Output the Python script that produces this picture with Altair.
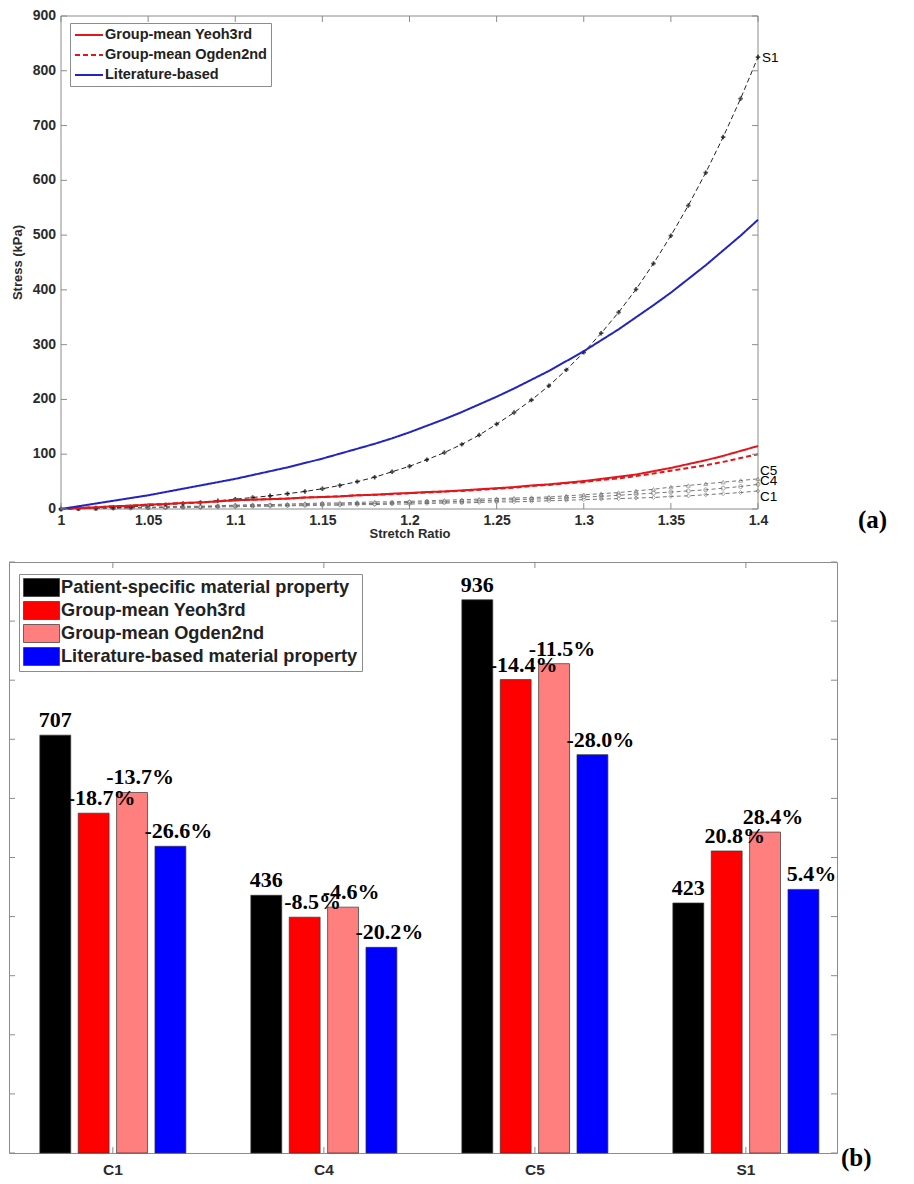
import altair as alt
import pandas as pd

# ---------------- (a) stress-stretch curves ----------------
stretch = [1.00, 1.01, 1.02, 1.03, 1.04, 1.05, 1.06, 1.07, 1.08, 1.09,
           1.10, 1.11, 1.12, 1.13, 1.14, 1.15, 1.16, 1.17, 1.18, 1.19,
           1.20, 1.21, 1.22, 1.23, 1.24, 1.25, 1.26, 1.27, 1.28, 1.29,
           1.30, 1.31, 1.32, 1.33, 1.34, 1.35, 1.36, 1.37, 1.38, 1.39, 1.40]
s1 = [0, 1, 2, 3, 4, 6, 8, 10, 12, 15, 18, 21, 24, 28, 32, 37, 43, 50, 58, 68,
      78, 90, 103, 118, 135, 155, 176, 199, 225, 254, 286, 321, 359, 401, 448,
      499, 554, 614, 679, 749, 825]
c5 = [0, 1, 1, 2, 3, 3, 4, 5, 5, 6, 7, 8, 8, 9, 10, 11, 11, 12, 13, 13,
      14, 15, 16, 17, 18, 19, 20, 21, 22, 24, 26, 28, 30, 33, 36, 40, 43, 46, 49, 52, 55]
c4 = [0, 1, 1, 2, 2, 3, 3, 4, 4, 5, 6, 6, 7, 7, 8, 9, 9, 10, 10, 11,
      12, 13, 13, 14, 15, 16, 17, 18, 19, 20, 22, 23, 25, 27, 29, 31, 33, 35, 38, 41, 45]
c1 = [0, 0, 1, 1, 2, 2, 3, 3, 3, 4, 4, 5, 5, 6, 6, 7, 7, 8, 8, 9,
      9, 10, 11, 11, 12, 13, 13, 14, 15, 16, 17, 18, 19, 20, 21, 23, 24, 26, 28, 30, 33]
yeoh = [0, 2, 3, 5, 6, 8, 9, 11, 12, 14, 16, 17, 18, 19, 21, 22, 23, 25, 26, 28,
        29, 31, 32, 34, 36, 38, 40, 43, 45, 48, 51, 55, 59, 63, 69, 75, 82, 89, 97, 106, 115]
ogden = [0, 2, 3, 5, 6, 8, 9, 11, 12, 14, 16, 17, 18, 19, 21, 22, 23, 25, 26, 27,
         29, 30, 32, 33, 35, 37, 39, 42, 44, 47, 49, 53, 56, 60, 65, 70, 75, 80, 86, 93, 100]
lit = [0, 5, 10, 15, 20, 25, 31, 37, 43, 49, 55, 62, 69, 76, 84, 92, 101, 110, 119, 129,
       140, 152, 164, 177, 191, 205, 220, 236, 252, 270, 288, 308, 328, 350, 372, 395,
       420, 445, 472, 499, 528]
model_names = ["Group-mean Yeoh3rd", "Group-mean Ogden2nd", "Literature-based"]
x_ticks = [1.0, 1.05, 1.1, 1.15, 1.2, 1.25, 1.3, 1.35, 1.4]
y_ticks_a = [0, 100, 200, 300, 400, 500, 600, 700, 800, 900]

# ---------------- (b) bar chart ----------------
cases = ["C1", "C4", "C5", "S1"]
groups = ["Patient-specific material property", "Group-mean Yeoh3rd",
          "Group-mean Ogden2nd", "Literature-based material property"]
patient_b = [707, 436, 936, 423]
yeoh_b = [575, 399, 801, 511]
ogden_b = [610, 416, 828, 543]
lit_b = [519, 348, 674, 446]
yeoh_pct = ["-18.7%", "-8.5%", "-14.4%", "20.8%"]
ogden_pct = ["-13.7%", "-4.6%", "-11.5%", "28.4%"]
lit_pct = ["-26.6%", "-20.2%", "-28.0%", "5.4%"]
y_ticks_b = [0, 100, 200, 300, 400, 500, 600, 700, 800, 900, 1000]

SANS = "Liberation Sans"
SERIF = "Liberation Serif"
TXT = "#2b2b2b"
BOX = "#8c8c8c"

# ================= chart (a) =================
PL = 52            # room kept inside the group for the y labels and title
PW, HA = 697, 493  # plot box size
WA = PL + PW
xs = alt.Scale(domain=[1.0, 1.4], nice=False, zero=False, range=[PL, WA])
ys = alt.Scale(domain=[0, 900], nice=False)

x_axis = alt.Axis(values=x_ticks, format="~g", title="Stretch Ratio", labelFont=SANS,
                  labelFontSize=14, labelFontWeight="bold", labelColor=TXT,
                  titleFont=SANS, titleFontSize=13, titleFontWeight="bold", titleColor=TXT,
                  ticks=False, domain=False, grid=False, labelPadding=4, titlePadding=0,
                  labelFlush=False, labelOverlap=False, titleX=PL + PW / 2, titleAlign="center")

rows_c = []
for name, vals in (("C1", c1), ("C4", c4), ("C5", c5)):
    for xv, yv in zip(stretch, vals):
        rows_c.append({"x": xv, "y": yv, "case": name})
df_c = pd.DataFrame(rows_c)
df_s1 = pd.DataFrame({"x": stretch, "y": s1})
rows_m = []
for name, vals in zip(model_names, (yeoh, ogden, lit)):
    for xv, yv in zip(stretch, vals):
        rows_m.append({"x": xv, "y": yv, "series": name})
df_m = pd.DataFrame(rows_m)

X = alt.X("x:Q", scale=xs, axis=x_axis)
Y = alt.Y("y:Q", scale=ys, axis=None)

c_lines = alt.Chart(df_c).mark_line(color="#666666", strokeWidth=0.9, strokeDash=[4, 3]).encode(
    x=X, y=Y, detail="case:N")
c_pts = alt.Chart(df_c).mark_point(filled=False, size=16, color="#666666", strokeWidth=0.8).encode(
    x=X, y=Y,
    shape=alt.Shape("case:N", scale=alt.Scale(domain=["C1", "C4", "C5"],
                                              range=["diamond", "circle", "triangle-up"]),
                    legend=None))
s1_line = alt.Chart(df_s1).mark_line(color="#222222", strokeWidth=1, strokeDash=[5, 3]).encode(x=X, y=Y)
s1_pts = alt.Chart(df_s1).mark_point(filled=True, size=20, color="black", shape="cross").encode(x=X, y=Y)

# line symbol 28px long drawn from a path scaled by sqrt(size)/2 = 7
leg_a = alt.Legend(title=None, orient="none", legendX=PL + 9, legendY=7, fillColor="white",
                   strokeColor=BOX, padding=4, labelFont=SANS, labelFontSize=14.5,
                   labelFontWeight="bold", labelColor="#222222", symbolType="M-2,0H2",
                   symbolSize=196, symbolStrokeWidth=2, symbolOffset=7, labelOffset=8,
                   rowPadding=5, labelLimit=0)
model_lines = alt.Chart(df_m).mark_line(strokeWidth=2).encode(
    x=X, y=Y,
    color=alt.Color("series:N", scale=alt.Scale(domain=model_names,
                                                range=["#e3161b", "#e3161b", "#2323c4"]),
                    legend=leg_a, sort=model_names),
    strokeDash=alt.StrokeDash("series:N", scale=alt.Scale(domain=model_names,
                                                          range=[[1, 0], [5, 3], [1, 0]]),
                              legend=leg_a, sort=model_names))

end_x = stretch[-1]
def end_label(txt, yv, dy, dx):
    return alt.Chart(pd.DataFrame({"x": [end_x], "y": [yv], "t": [txt]})).mark_text(
        align="left", baseline="middle", dx=dx, dy=dy, font=SANS, fontSize=13.5,
        color="black").encode(x=X, y=Y, text="t:N")

lab_s1 = end_label("S1", s1[-1], 1, 4)
lab_c5 = end_label("C5", c5[-1], -8, 2)
lab_c4 = end_label("C4", c4[-1], -3, 2)
lab_c1 = end_label("C1", c1[-1], 6, 2)

df_xt = pd.DataFrame({"x": x_ticks})
df_yt = pd.DataFrame({"y": y_ticks_a})
tk_b = alt.Chart(df_xt).mark_rule(color=BOX).encode(x=X, y=alt.value(HA), y2=alt.value(HA - 6))
tk_t = alt.Chart(df_xt).mark_rule(color=BOX).encode(x=X, y=alt.value(0), y2=alt.value(6))
tk_l = alt.Chart(df_yt).mark_rule(color=BOX).encode(y=Y, x=alt.value(PL), x2=alt.value(PL + 6))
tk_r = alt.Chart(df_yt).mark_rule(color=BOX).encode(y=Y, x=alt.value(WA - 6), x2=alt.value(WA))
ylab = alt.Chart(df_yt).mark_text(align="right", baseline="middle", font=SANS, fontSize=14,
                                  fontWeight="bold", color=TXT).encode(
    y=Y, x=alt.value(PL - 5), text=alt.Text("y:Q", format="d"))

one = pd.DataFrame({"k": [0]})
box_l = alt.Chart(one).mark_rule(color=BOX).encode(x=alt.value(PL), y=alt.value(0), y2=alt.value(HA))
box_r = alt.Chart(one).mark_rule(color=BOX).encode(x=alt.value(WA), y=alt.value(0), y2=alt.value(HA))
box_t = alt.Chart(one).mark_rule(color=BOX).encode(y=alt.value(0), x=alt.value(PL), x2=alt.value(WA))
box_b = alt.Chart(one).mark_rule(color=BOX).encode(y=alt.value(HA), x=alt.value(PL), x2=alt.value(WA))

ytitle = alt.Chart(pd.DataFrame({"t": ["Stress (kPa)"]})).mark_text(
    angle=270, align="center", baseline="middle", font=SANS, fontSize=13, fontWeight="bold",
    color=TXT).encode(x=alt.value(9), y=alt.value(HA / 2), text="t:N")

tag_a = alt.Chart(pd.DataFrame({"t": ["(a)"]})).mark_text(
    align="left", baseline="middle", font=SERIF, fontWeight="bold", fontSize=25, color="black").encode(
    x=alt.value(WA + 100), y=alt.value(HA + 11), text="t:N")

chart_a = alt.layer(box_l, box_r, box_t, box_b, c_lines, c_pts, s1_line, s1_pts, model_lines,
                    lab_s1, lab_c5, lab_c4, lab_c1, tk_b, tk_t, tk_l, tk_r, ylab, ytitle,
                    tag_a).properties(width=WA, height=HA,
                                      view=alt.ViewBackground(stroke="transparent"))

# ================= chart (b) =================
WB, HB = 828, 591
rows_b = []
for grp, vals, labs in ((groups[0], patient_b, [str(v) for v in patient_b]),
                        (groups[1], yeoh_b, yeoh_pct),
                        (groups[2], ogden_b, ogden_pct),
                        (groups[3], lit_b, lit_pct)):
    for cs, v, lb in zip(cases, vals, labs):
        rows_b.append({"case": cs, "group": grp, "value": v, "label": lb,
                       "is_num": grp == groups[0]})
df_b = pd.DataFrame(rows_b)

xb_scale = alt.Scale(domain=cases, paddingInner=0.308, paddingOuter=0.116, align=0.63)
xb_axis = alt.Axis(title=None, labelFont=SANS, labelFontSize=15.5, labelFontWeight="bold",
                   labelColor=TXT, ticks=False, domain=False, grid=False, labelPadding=9,
                   labelAngle=0)
XB = alt.X("case:N", scale=xb_scale, axis=xb_axis, sort=cases)
XO = alt.XOffset("group:N", scale=alt.Scale(domain=groups, paddingInner=0.195, paddingOuter=0),
                 sort=groups)
yb_scale = alt.Scale(domain=[0, 1000], nice=False)
YB = alt.Y("value:Q", scale=yb_scale, axis=None)

# 36x18 swatch drawn from a path scaled by sqrt(size)/2 = 9
leg_b = alt.Legend(title=None, orient="none", legendX=10, legendY=12, fillColor="white",
                   strokeColor=BOX, padding=4, labelFont=SANS, labelFontSize=18.2,
                   labelFontWeight="bold", labelColor="#222222",
                   symbolType="M-2,-1H2V1H-2Z", symbolSize=324, symbolOffset=9,
                   symbolStrokeColor="#333333", symbolStrokeWidth=0.7, symbolOpacity=1,
                   labelOffset=10, rowPadding=2, labelLimit=0)
bars = alt.Chart(df_b).mark_bar(stroke="#333333", strokeWidth=0.7, opacity=1).encode(
    x=XB, xOffset=XO, y=YB,
    color=alt.Color("group:N", scale=alt.Scale(domain=groups,
                                               range=["#000000", "#ff0000", "#ff7f7f", "#0000ff"]),
                    legend=leg_b, sort=groups))
num_labels = alt.Chart(df_b).transform_filter("datum.is_num").mark_text(
    baseline="bottom", dy=-3, font=SERIF, fontWeight="bold", fontSize=22, color="black").encode(
    x=XB, xOffset=XO, y=YB, text="label:N")
pct_labels = alt.Chart(df_b).transform_filter("!datum.is_num").mark_text(
    baseline="bottom", dy=-3, dx=8, font=SERIF, fontWeight="bold", fontSize=22, color="black").encode(
    x=XB, xOffset=XO, y=YB, text="label:N")

df_cb = pd.DataFrame({"case": cases})
df_yb = pd.DataFrame({"value": y_ticks_b})
tkb_b = alt.Chart(df_cb).mark_rule(color=BOX).encode(x=XB, y=alt.value(HB), y2=alt.value(HB - 6))
tkb_t = alt.Chart(df_cb).mark_rule(color=BOX).encode(x=XB, y=alt.value(0), y2=alt.value(6))
tkb_l = alt.Chart(df_yb).mark_rule(color=BOX).encode(y=YB, x=alt.value(0), x2=alt.value(6))
tkb_r = alt.Chart(df_yb).mark_rule(color=BOX).encode(y=YB, x=alt.value(WB - 6), x2=alt.value(WB))

tag_b = alt.Chart(pd.DataFrame({"t": ["(b)"]})).mark_text(
    align="left", baseline="middle", font=SERIF, fontWeight="bold", fontSize=25, color="black").encode(
    x=alt.value(WB + 4), y=alt.value(HB + 5), text="t:N")

chart_b = alt.layer(bars, num_labels, pct_labels, tkb_b, tkb_t, tkb_l, tkb_r, tag_b).properties(
    width=WB, height=HB, view=alt.ViewBackground(stroke=BOX, strokeWidth=1))

chart = alt.ConcatChart(concat=[chart_a, chart_b], columns=1, spacing=20, align="none",
                        padding=0).resolve_scale(
    color="independent", strokeDash="independent", shape="independent").configure(font=SANS)

chart.save("out.html", embed_options={"renderer": "svg", "actions": False})
